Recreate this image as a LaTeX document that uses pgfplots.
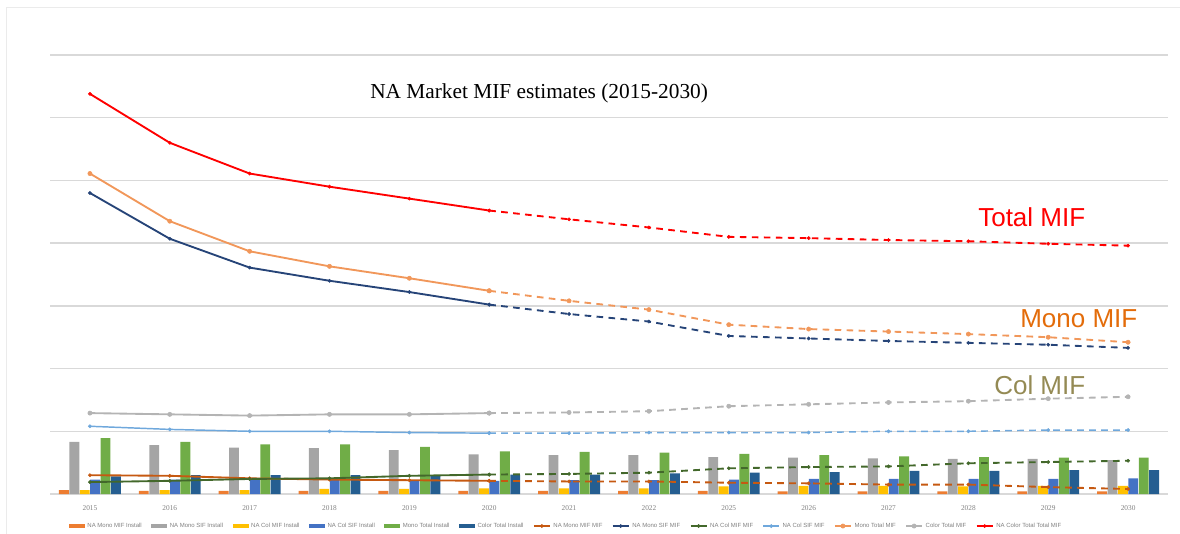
\documentclass[border=0pt]{standalone}
\usepackage{fontspec}
\setmainfont{Liberation Serif}
\setsansfont{Liberation Sans}
\usepackage{pgfplots}
\pgfplotsset{compat=1.18}
\definecolor{cA}{HTML}{ED7D31}
\definecolor{cB}{HTML}{A5A5A5}
\definecolor{cC}{HTML}{FFC000}
\definecolor{cD}{HTML}{4472C4}
\definecolor{cE}{HTML}{70AD47}
\definecolor{cF}{HTML}{255E91}
\definecolor{lA}{HTML}{C65911}
\definecolor{lB}{HTML}{264478}
\definecolor{lC}{HTML}{43682B}
\definecolor{lD}{HTML}{6FA8DC}
\definecolor{lE}{HTML}{F1975A}
\definecolor{lF}{HTML}{B4B4B4}
\definecolor{lG}{HTML}{FF0000}
\definecolor{gridgray}{HTML}{D9D9D9}
\definecolor{framegray}{HTML}{EBEBEB}
\definecolor{monotxt}{HTML}{E36C0A}
\definecolor{coltxt}{HTML}{948A54}
\begin{document}
\begin{tikzpicture}
\path[use as bounding box] (0,0) rectangle (885pt,-400.5pt);
\begin{axis}[
  at={(37.5pt,-370.5pt)}, anchor=south west,
  scale only axis, width=838.5pt, height=329.25pt,
  xmin=-0.5, xmax=13.5, ymin=0, ymax=70,
  ytick={0,10,...,70}, yticklabels={},
  ymajorgrids, grid style={color=gridgray, line width=1.1pt},
  axis line style={draw=none},
  major tick length=0pt,
  xtick={0,...,13},
  xticklabels={2015,2016,2017,2018,2019,2020,2021,2022,2025,2026,2027,2028,2029,2030},
  xticklabel style={anchor=center, yshift=-10.5pt, font=\fontsize{5.5}{6}\selectfont, text=gray},
  clip=false,
  legend columns=13,
  legend style={at={(0.013,-0.073)}, anchor=west, draw=none, fill=none,
    font=\sffamily\fontsize{4.5}{5}\selectfont, text=gray,
    /tikz/every even column/.append style={column sep=5pt}},
  barleg/.style={legend image code/.code={\fill[##1] (0pt,-1.3pt) rectangle (12pt,1.3pt);}},
  lineleg/.style={legend image code/.code={\draw[mark repeat=2,mark phase=2,##1] plot coordinates {(0pt,0pt)(6pt,0pt)(12pt,0pt)};}},
  fc/.style={line width=1.4pt, mark=*, mark size=1.2pt, mark options={line width=0.4pt}},
  dsh/.style={line width=1.4pt, mark=*, mark size=1.2pt, dash pattern=on 5pt off 4pt, mark options={solid, line width=0.4pt}, forget plot},
]
% bars
\addplot[ybar, bar width=7.4pt, bar shift=-19.5pt, fill=cA, draw=none, barleg] coordinates {(0,0.6)(1,0.5)(2,0.5)(3,0.5)(4,0.5)(5,0.5)(6,0.5)(7,0.5)(8,0.5)(9,0.4)(10,0.4)(11,0.4)(12,0.4)(13,0.4)};
\addlegendentry{NA Mono MIF Install}
\addplot[ybar, bar width=7.4pt, bar shift=-11.7pt, fill=cB, draw=none, barleg] coordinates {(0,8.3)(1,7.8)(2,7.4)(3,7.3)(4,7.0)(5,6.3)(6,6.2)(7,6.2)(8,5.9)(9,5.8)(10,5.7)(11,5.6)(12,5.6)(13,5.4)};
\addlegendentry{NA Mono SIF Install}
\addplot[ybar, bar width=7.4pt, bar shift=-3.9pt, fill=cC, draw=none, barleg] coordinates {(0,0.6)(1,0.6)(2,0.6)(3,0.8)(4,0.8)(5,0.9)(6,0.9)(7,0.9)(8,1.2)(9,1.3)(10,1.3)(11,1.2)(12,1.3)(13,1.3)};
\addlegendentry{NA Col MIF Install}
\addplot[ybar, bar width=7.4pt, bar shift=3.9pt, fill=cD, draw=none, barleg] coordinates {(0,2.3)(1,2.3)(2,2.2)(3,2.2)(4,2.2)(5,2.1)(6,2.2)(7,2.2)(8,2.3)(9,2.4)(10,2.4)(11,2.4)(12,2.4)(13,2.5)};
\addlegendentry{NA Col SIF Install}
\addplot[ybar, bar width=7.4pt, bar shift=11.7pt, fill=cE, draw=none, barleg] coordinates {(0,8.9)(1,8.3)(2,7.9)(3,7.9)(4,7.5)(5,6.8)(6,6.7)(7,6.6)(8,6.4)(9,6.2)(10,6.0)(11,5.9)(12,5.8)(13,5.8)};
\addlegendentry{Mono Total Install}
\addplot[ybar, bar width=7.4pt, bar shift=19.5pt, fill=cF, draw=none, barleg] coordinates {(0,2.8)(1,3.0)(2,3.0)(3,3.0)(4,3.0)(5,3.1)(6,3.1)(7,3.3)(8,3.4)(9,3.5)(10,3.7)(11,3.7)(12,3.8)(13,3.8)};
\addlegendentry{Color Total Install}
% lines
\addplot[lA, fc, lineleg] coordinates {(0,3.0)(1,2.9)(2,2.5)(3,2.3)(4,2.2)(5,2.1)};
\addlegendentry{NA Mono MIF MIF}
\addplot[lA, dsh] coordinates {(5,2.1)(6,2.0)(7,2.0)(8,1.8)(9,1.7)(10,1.5)(11,1.5)(12,1.1)(13,0.8)};
\addplot[lB, fc, lineleg] coordinates {(0,48.0)(1,40.7)(2,36.1)(3,34.0)(4,32.2)(5,30.2)};
\addlegendentry{NA Mono SIF MIF}
\addplot[lB, dsh] coordinates {(5,30.2)(6,28.7)(7,27.5)(8,25.2)(9,24.8)(10,24.4)(11,24.1)(12,23.8)(13,23.3)};
\addplot[lC, fc, lineleg] coordinates {(0,1.9)(1,2.1)(2,2.4)(3,2.5)(4,2.9)(5,3.1)};
\addlegendentry{NA Col MIF MIF}
\addplot[lC, dsh] coordinates {(5,3.1)(6,3.2)(7,3.4)(8,4.1)(9,4.3)(10,4.4)(11,4.9)(12,5.1)(13,5.3)};
\addplot[lD, fc, line width=1.1pt, lineleg] coordinates {(0,10.8)(1,10.3)(2,10.0)(3,10.0)(4,9.8)(5,9.7)};
\addlegendentry{NA Col SIF MIF}
\addplot[lD, dsh, line width=1.1pt] coordinates {(5,9.7)(6,9.7)(7,9.8)(8,9.8)(9,9.8)(10,10.0)(11,10.0)(12,10.2)(13,10.2)};
\addplot[lE, fc, mark size=1.6pt, lineleg] coordinates {(0,51.1)(1,43.5)(2,38.7)(3,36.3)(4,34.4)(5,32.4)};
\addlegendentry{Mono Total MIF}
\addplot[lE, dsh, mark size=1.6pt] coordinates {(5,32.4)(6,30.8)(7,29.4)(8,27.0)(9,26.3)(10,25.9)(11,25.5)(12,25.0)(13,24.2)};
\addplot[lF, fc, mark size=1.6pt, lineleg] coordinates {(0,12.9)(1,12.7)(2,12.5)(3,12.7)(4,12.7)(5,12.9)};
\addlegendentry{Color Total MIF}
\addplot[lF, dsh, mark size=1.6pt] coordinates {(5,12.9)(6,13.0)(7,13.2)(8,14.0)(9,14.3)(10,14.6)(11,14.8)(12,15.2)(13,15.5)};
\addplot[lG, fc, lineleg] coordinates {(0,63.8)(1,56.0)(2,51.1)(3,49.0)(4,47.1)(5,45.2)};
\addlegendentry{NA Color Total Total MIF}
\addplot[lG, dsh] coordinates {(5,45.2)(6,43.8)(7,42.5)(8,41.0)(9,40.8)(10,40.5)(11,40.3)(12,39.9)(13,39.6)};
\end{axis}
\begin{scope}[x=0.75pt,y=-0.75pt]
\draw[framegray, line width=0.75pt] (6,560) -- (6,8) -- (1200,8);
\node[anchor=base west, inner sep=0pt, font=\fontsize{16}{18}\selectfont] at (370,99) {NA Market MIF estimates (2015-2030)};
\node[anchor=base west, inner sep=0pt, font=\sffamily\fontsize{19.5}{22}\selectfont, text=lG] at (978,227) {Total MIF};
\node[anchor=base west, inner sep=0pt, font=\sffamily\fontsize{19.5}{22}\selectfont, text=monotxt] at (1020,327) {Mono MIF};
\node[anchor=base west, inner sep=0pt, font=\sffamily\fontsize{19.5}{22}\selectfont, text=coltxt] at (994,394) {Col MIF};
\end{scope}
\end{tikzpicture}
\end{document}
